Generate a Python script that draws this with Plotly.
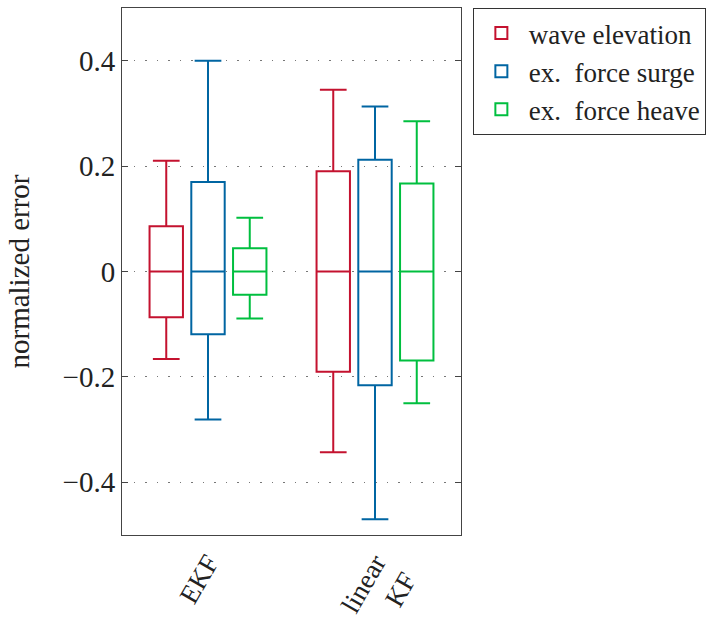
import plotly.graph_objects as go

categories = ["EKF", "linear<br>KF"]
series_names = ["wave elevation", "ex.\u2002force surge", "ex.\u2002force heave"]
colors = ["#C4122F", "#0065A2", "#00BF3F"]

upper = [[0.210, 0.345], [0.400, 0.313], [0.102, 0.285]]
q3 = [[0.086, 0.190], [0.170, 0.212], [0.044, 0.167]]
median = [[0.0, 0.0], [0.0, 0.0], [0.0, 0.0]]
q1 = [[-0.087, -0.190], [-0.119, -0.216], [-0.044, -0.169]]
lower = [[-0.166, -0.343], [-0.281, -0.470], [-0.089, -0.250]]

y_ticks = [-0.4, -0.2, 0, 0.2, 0.4]
y_ticktext = ["\u22120.4", "\u22120.2", "0", "0.2", "0.4"]

FONT = "Liberation Serif"
FS = 29

fig = go.Figure()
for i, name in enumerate(series_names):
    fig.add_trace(go.Box(
        name=name,
        x=categories,
        q1=q1[i], median=median[i], q3=q3[i],
        lowerfence=lower[i], upperfence=upper[i],
        line=dict(color=colors[i], width=2),
        fillcolor="rgba(0,0,0,0)",
        whiskerwidth=0.8,
        boxpoints=False,
    ))

fig.update_layout(
    width=726, height=619,
    margin=dict(l=122, r=265, t=8, b=84, autoexpand=False),
    paper_bgcolor="white", plot_bgcolor="white",
    boxmode="group", boxgap=0.25, boxgroupgap=0.2,
    font=dict(family=FONT, size=FS, color="#222"),
    showlegend=True,
    legend=dict(
        x=1.035, y=1, xanchor="left", yanchor="top",
        bordercolor="#333", borderwidth=1,
        font=dict(family=FONT, size=27, color="#222"),
        tracegroupgap=0, itemsizing="constant", itemwidth=45,
    ),
)
fig.update_xaxes(
    type="category", range=[-0.515, 1.515],
    showline=True, linecolor="#444", linewidth=1, mirror=True,
    ticks="", tickangle=-60, showgrid=False,
    tickfont=dict(family=FONT, size=27, color="#222"),
)
fig.update_yaxes(
    range=[-0.5, 0.5],
    tickvals=y_ticks, ticktext=y_ticktext,
    showline=True, linecolor="#444", linewidth=1, mirror="ticks",
    ticks="inside", ticklen=6, tickcolor="#444",
    showgrid=True, gridcolor="#777", gridwidth=1, griddash="1.5px,10px",
    zeroline=False,
    title=dict(text="normalized error", font=dict(family=FONT, size=FS, color="#222"), standoff=24),
    tickfont=dict(family=FONT, size=FS, color="#222"),
)

fig.write_html(
    "out.html",
    config={"displayModeBar": False},
    post_script="document.body.style.margin='0';document.body.style.overflow='hidden';",
)
